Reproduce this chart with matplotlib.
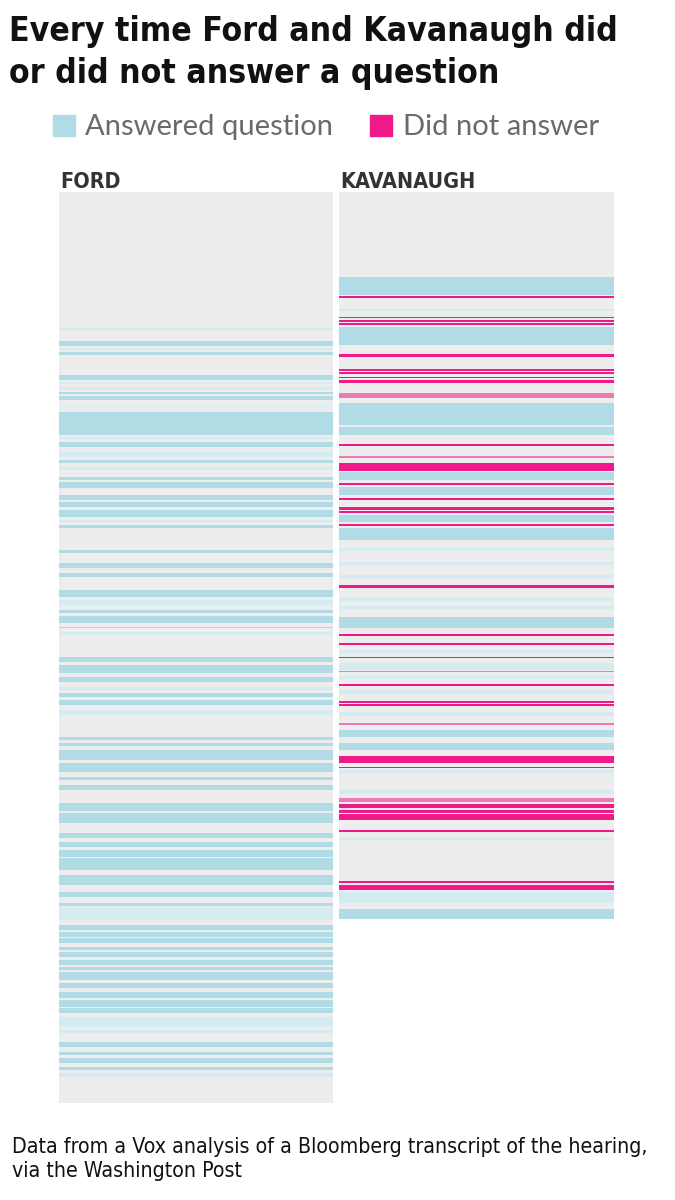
import matplotlib
matplotlib.use("Agg")
import matplotlib.pyplot as plt
from matplotlib.patches import Rectangle

# transcript rows (top of each panel = row 0); each stripe is (first_row, last_row)
ford_rows = 911
kav_rows = 727

ford_answered = [
    (149, 154), (160, 163), (183, 188), (200, 202), (204, 208), (220, 243),
    (250, 255), (268, 271), (285, 288), (290, 296), (303, 308), (310, 315),
    (318, 325), (333, 336), (358, 361), (371, 376), (381, 385), (398, 405),
    (418, 421), (424, 431), (435, 436), (465, 470), (473, 481), (485, 490),
    (501, 505), (508, 513), (545, 548), (551, 554), (558, 568), (571, 580),
    (585, 588), (593, 598), (611, 619), (621, 631), (641, 646), (650, 655),
    (658, 665), (666, 678), (683, 693), (700, 705), (711, 714), (733, 738),
    (740, 745), (746, 751), (755, 758), (760, 765), (768, 773), (775, 778),
    (780, 788), (791, 796), (800, 806), (808, 815), (816, 821), (850, 855),
    (860, 863), (866, 871), (875, 878),
]
# short or partial answers, drawn paler
ford_answered_faint = [
    (136, 138), (156, 158), (190, 192), (195, 198), (214, 215), (245, 247),
    (260, 265), (275, 278), (328, 330), (408, 413), (440, 443), (495, 498),
    (518, 523), (715, 728), (825, 835), (838, 841), (881, 885),
]

kav_answered = [
    (85, 103), (135, 153), (211, 233), (235, 243), (280, 288), (295, 303),
    (323, 330), (336, 348), (425, 436), (538, 545), (551, 558), (717, 727),
]
kav_answered_faint = [
    (117, 119), (356, 359), (370, 373), (383, 386), (406, 409), (414, 417),
    (458, 461), (471, 478), (484, 487), (498, 502), (520, 524), (578, 581),
    (598, 602), (646, 648), (700, 711),
]

kav_no_answer = [
    (104, 106), (125, 126), (128, 130), (131, 133), (162, 165), (177, 179),
    (180, 182), (185, 186), (188, 191), (252, 254), (271, 279), (291, 293),
    (306, 308), (315, 318), (319, 321), (332, 334), (393, 396), (442, 444),
    (451, 453), (465, 466), (492, 494), (509, 511), (512, 514), (564, 571),
    (575, 576), (612, 616), (618, 621), (622, 628), (638, 640), (689, 691),
    (693, 698),
]
kav_no_answer_faint = [(201, 206), (264, 266), (479, 480), (531, 533), (606, 610)]

legend_labels = ["Answered question", "Did not answer"]
panel_names = ["FORD", "KAVANAUGH"]

BLUE = "#b1dce5"
BLUE_PALE = "#d4ecf1"
PINK = "#ee1a8a"
GRAY = "#ededed"

W, H = 675, 1200
fig = plt.figure(figsize=(W / 100, H / 100), dpi=100)
fig.patch.set_facecolor("white")


def fx(x):
    return x / W


def fy(y):
    return 1 - y / H


cond = dict(family="DejaVu Sans", fontstretch="condensed")
fig.text(fx(9), fy(41), "Every time Ford and Kavanaugh did", **cond,
         fontweight="bold", fontsize=24.2, color="#111111", va="baseline")
fig.text(fx(9), fy(83), "or did not answer a question", **cond,
         fontweight="bold", fontsize=24.2, color="#111111", va="baseline")

# legend
for (x0, x_txt), lab, col in zip([(53, 85), (370, 403)], legend_labels, [BLUE, PINK]):
    fig.patches.append(Rectangle((fx(x0), fy(136)), fx(22), 21 / H,
                                 transform=fig.transFigure, color=col))
    fig.text(fx(x_txt), fy(135), lab, family=["Lato", "DejaVu Sans"],
             fontsize=21, color="#6a6a6a", va="baseline")


def draw_panel(left, width, n_rows, name, stripes):
    ax = fig.add_axes([fx(left), fy(192 + ford_rows), fx(width), ford_rows / H])
    ax.set_xlim(0, 1)
    ax.set_ylim(ford_rows, 0)
    ax.axis("off")
    ax.barh(0, 1, height=n_rows, left=0, align="edge", color=GRAY, linewidth=0)
    for rows, col, alpha in stripes:
        starts = [a for a, b in rows]
        heights = [b - a for a, b in rows]
        ax.barh(starts, 1, height=heights, left=0, align="edge", color=col,
                alpha=alpha, linewidth=0)
    fig.text(fx(left + 1), fy(188), name, **cond, fontweight="bold",
             fontsize=15.5, color="#333333", va="baseline")
    return ax


draw_panel(59, 274, ford_rows, panel_names[0],
           [(ford_answered_faint, BLUE_PALE, 1.0), (ford_answered, BLUE, 1.0)])
draw_panel(339, 275, kav_rows, panel_names[1],
           [(kav_answered_faint, BLUE_PALE, 1.0), (kav_answered, BLUE, 1.0),
            (kav_no_answer, PINK, 1.0), (kav_no_answer_faint, PINK, 0.55)])

fig.text(fx(12), fy(1153), "Data from a Vox analysis of a Bloomberg transcript of the hearing,",
         **cond, fontsize=15.3, color="#111111", va="baseline")
fig.text(fx(12), fy(1177), "via the Washington Post",
         **cond, fontsize=15.3, color="#111111", va="baseline")

fig.savefig("out.png", dpi=100, facecolor="white")
